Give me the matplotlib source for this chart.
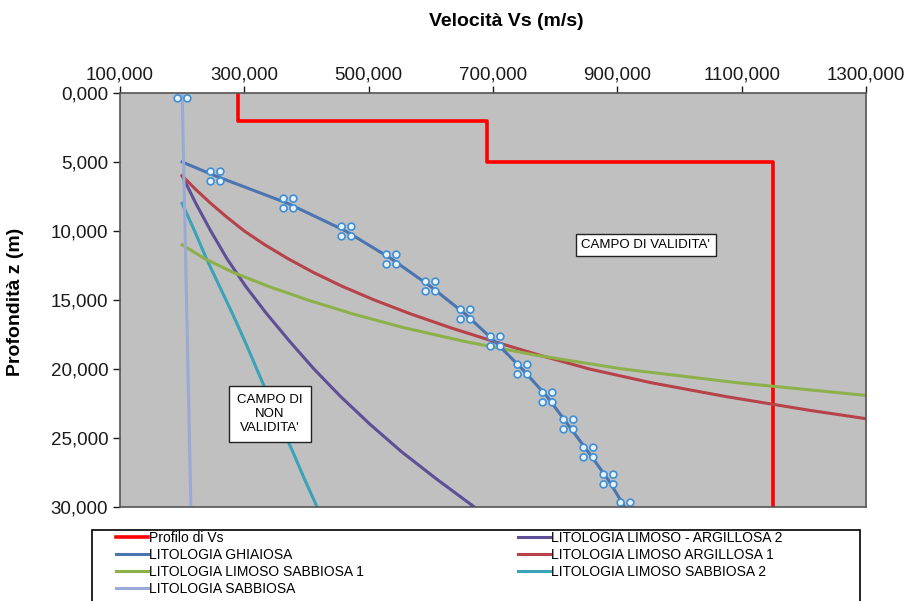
import numpy as np
import matplotlib
matplotlib.use('Agg')
import matplotlib.pyplot as plt
from matplotlib.path import Path
from matplotlib.patches import Rectangle
from matplotlib.ticker import FuncFormatter

plt.rcParams['font.family'] = ['Liberation Sans', 'DejaVu Sans']

# Profilo di Vs (step profile)
profilo_vs = [290, 290, 690, 690, 1150, 1150]
profilo_z = [0, 2, 2, 5, 5, 30]

# litologie: depth (m) and Vs (m/s)
ghiaiosa_z = [0, 5, 6, 8, 10, 12, 14, 16, 18, 20, 22, 24, 26, 28, 30]
ghiaiosa_vs = [200, 200, 253, 370, 463, 536, 599, 655, 703, 747, 787, 820, 853, 885, 912]

lim_arg2_z = [6, 8, 10, 12, 14, 16, 18, 20, 22, 24, 26, 28, 30]
lim_arg2_vs = [200, 222, 246, 272, 302, 336, 373, 412, 455, 502, 553, 610, 670]

lim_arg1_z = [6, 7, 8, 9, 10, 11, 12, 13, 14, 15, 16, 17, 18, 19, 20, 21, 22, 23, 24]
lim_arg1_vs = [200, 222, 246, 272, 300, 333, 370, 411, 457, 509, 567, 631, 701, 775, 855, 955, 1075, 1210, 1360]

lim_sab1_z = [11, 12, 13, 14, 15, 16, 17, 18, 19, 20, 21, 22]
lim_sab1_vs = [200, 236, 282, 338, 402, 474, 556, 654, 769, 909, 1094, 1319]

lim_sab2_z = [8, 10, 12, 14, 16, 18, 20, 22, 24, 26, 28, 30]
lim_sab2_vs = [200, 220, 239, 260, 281, 301, 320, 339, 358, 378, 397, 417]

sabbiosa_z = [0, 30]
sabbiosa_vs = [200, 214]

x_ticks = [100, 300, 500, 700, 900, 1100, 1300]
y_ticks = [0, 5, 10, 15, 20, 25, 30]

# marker made of four little rings
rings = [Path.circle((dx, dy), 0.32) for dx in (-0.45, 0.45) for dy in (-0.45, 0.45)]
ring_marker = Path.make_compound_path(*rings)

fig = plt.figure(figsize=(9.08, 6.01), dpi=100)
ax = fig.add_axes([120 / 908, 1 - 507 / 601, 746 / 908, 414 / 601])
ax.set_facecolor('#c0c0c0')

lw = 2.2
h_prof, = ax.plot(profilo_vs, profilo_z, color='#ff0000', lw=2.6, label='Profilo di Vs')
h_ls2, = ax.plot(lim_sab2_vs, lim_sab2_z, color='#3ba3b8', lw=lw, label='LITOLOGIA LIMOSO SABBIOSA 2')
h_la2, = ax.plot(lim_arg2_vs, lim_arg2_z, color='#5e4f96', lw=lw, label='LITOLOGIA LIMOSO - ARGILLOSA 2')
h_la1, = ax.plot(lim_arg1_vs, lim_arg1_z, color='#b8424a', lw=lw, label='LITOLOGIA LIMOSO ARGILLOSA 1')
h_ls1, = ax.plot(lim_sab1_vs, lim_sab1_z, color='#8db04a', lw=lw, label='LITOLOGIA LIMOSO SABBIOSA 1')
h_gh, = ax.plot(ghiaiosa_vs[1:], ghiaiosa_z[1:], color='#4a75b0', lw=lw, label='LITOLOGIA GHIAIOSA')
h_sab, = ax.plot(sabbiosa_vs, sabbiosa_z, color='#9aaad6', lw=lw, label='LITOLOGIA SABBIOSA')
ax.plot(ghiaiosa_vs, ghiaiosa_z, ls='none', marker=ring_marker, markersize=12,
        markerfacecolor='#e8f2fa', markeredgecolor='#3e8fd6', markeredgewidth=1.2,
        markevery=[0] + list(range(2, len(ghiaiosa_z))))

ax.set_xlim(100, 1300)
ax.set_ylim(30, 0)
ax.set_xticks(x_ticks)
ax.set_yticks(y_ticks)
fmt = FuncFormatter(lambda v, p: f"{v:.3f}".replace('.', ','))
ax.xaxis.set_major_formatter(fmt)
ax.yaxis.set_major_formatter(fmt)
ax.xaxis.tick_top()
ax.tick_params(axis='both', labelsize=13.5, colors='#1a1a1a', length=5, width=1)
ax.tick_params(axis='x', pad=2)
for s in ax.spines.values():
    s.set_color('#555555')
    s.set_linewidth(1.2)

fig.text(506 / 908, 1 - 22 / 601, 'Velocità Vs (m/s)', ha='center', va='center',
         fontsize=14, fontweight='bold')
fig.text(16 / 908, 1 - 302 / 601, 'Profondità z (m)', ha='center', va='center',
         rotation=90, fontsize=14, fontweight='bold')

ax.text(0.705, 0.633, "CAMPO DI VALIDITA'", transform=ax.transAxes, ha='center',
        va='center', fontsize=9.5, bbox=dict(boxstyle='square,pad=0.4', facecolor='white',
        edgecolor='#222222', lw=1))
ax.text(0.201, 0.225, "CAMPO DI\nNON\nVALIDITA'", transform=ax.transAxes, ha='center',
        va='center', fontsize=9.5, linespacing=1.25, bbox=dict(boxstyle='square,pad=0.6',
        facecolor='white', edgecolor='#222222', lw=1))

# legend: frame + two columns
fig.patches.append(Rectangle((92 / 908, -0.05), (860 - 92) / 908, 0.05 + 71 / 601,
                             transform=fig.transFigure, facecolor='white',
                             edgecolor='black', lw=1.2))
leg_kw = dict(loc='upper left', fontsize=10, frameon=False, handlelength=2.3,
              handletextpad=0.05, labelspacing=0.22, borderaxespad=0, borderpad=0)
left = [h_prof, h_gh, h_ls1, h_sab]
right = [h_la2, h_la1, h_ls2]
leg1 = fig.legend(handles=left, labels=[h.get_label() for h in left],
                  bbox_to_anchor=(116 / 908, 1 - 531 / 601), **leg_kw)
leg2 = fig.legend(handles=right, labels=[h.get_label() for h in right],
                  bbox_to_anchor=(518 / 908, 1 - 531 / 601), **leg_kw)

fig.savefig('out.png', dpi=100)
